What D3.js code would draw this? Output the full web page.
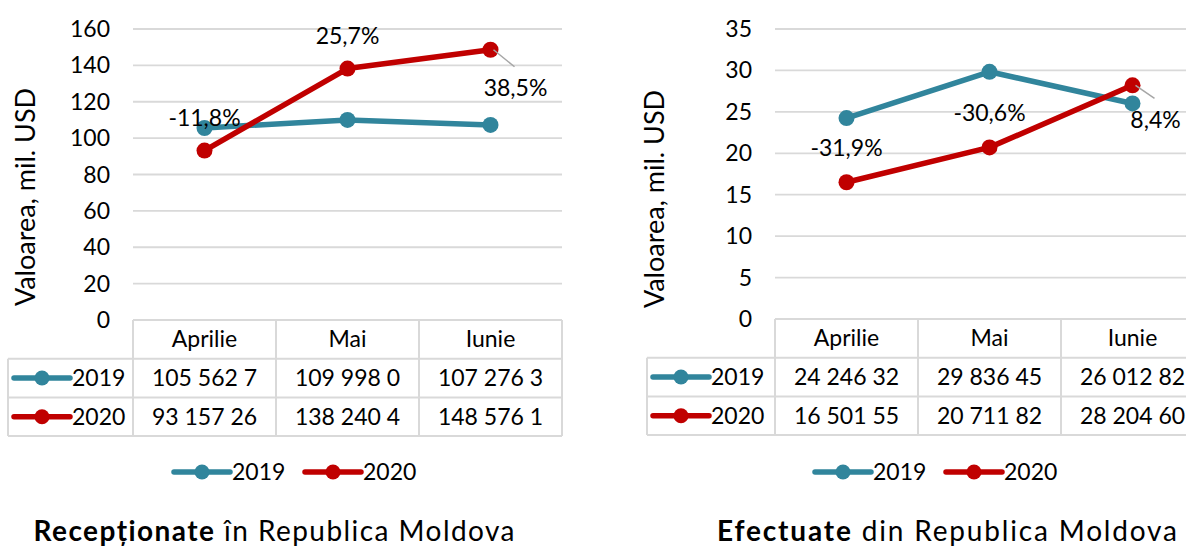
<!DOCTYPE html>
<html>
<head>
<meta charset="utf-8">
<script src="https://cdn.jsdelivr.net/npm/d3@7"></script>
<style>
body { margin: 0; background: #fff; }
svg text { font-family: Lato, sans-serif; fill: #000; }
</style>
</head>
<body>
<svg id="chart" width="1186" height="546"></svg>
<script>
var months = ["Aprilie", "Mai", "Iunie"]
var years = ["2019", "2020"]

// Receptionate in Republica Moldova, mil. USD
var rec2019 = [105.5627, 109.9980, 107.2763]
var rec2020 = [93.15726, 138.2404, 148.5761]
var recTable2019 = ["105 562 7", "109 998 0", "107 276 3"]
var recTable2020 = ["93 157 26", "138 240 4", "148 576 1"]
var recChange = ["-11,8%", "25,7%", "38,5%"]
var recTicks = [0, 20, 40, 60, 80, 100, 120, 140, 160]

// Efectuate din Republica Moldova, mil. USD
var ef2019 = [24.24632, 29.83645, 26.01282]
var ef2020 = [16.50155, 20.71182, 28.20460]
var efTable2019 = ["24 246 32", "29 836 45", "26 012 82"]
var efTable2020 = ["16 501 55", "20 711 82", "28 204 60"]
var efChange = ["-31,9%", "-30,6%", "8,4%"]
var efTicks = [0, 5, 10, 15, 20, 25, 30, 35]

var colors = { "2019": "#31859c", "2020": "#c00000" }
var gridColor = "#d9d9d9"

var svg = d3.select("#chart")

function drawPanel(p) {
    var g = svg.append("g")
    var colW = p.colW
    var plotRight = p.plotLeft + colW * months.length

    var x = d3.scaleBand().domain(months).range([p.plotLeft, plotRight])
    var y = d3.scaleLinear().domain([0, d3.max(p.ticks)]).range([p.yBottom, p.yTop])

    // gridlines
    g.selectAll(".grid").data(p.ticks).enter().append("line")
        .attr("x1", p.plotLeft).attr("x2", plotRight)
        .attr("y1", d => y(d)).attr("y2", d => y(d))
        .attr("stroke", gridColor).attr("stroke-width", 1.8)

    // y tick labels
    g.selectAll(".tick").data(p.ticks).enter().append("text")
        .attr("x", p.plotLeft - 23).attr("y", d => y(d)).attr("dy", "0.35em")
        .attr("text-anchor", "end").style("font-size", "23px")
        .text(d => d)

    // y title
    g.append("text")
        .attr("transform", "translate(" + p.titleX + "," + p.titleY + ") rotate(-90)")
        .attr("text-anchor", "middle").attr("dy", "0.35em")
        .style("font-size", "27px")
        .text("Valoarea, mil. USD")

    var line = d3.line()
        .x((d, i) => x(months[i]) + x.bandwidth() / 2)
        .y(d => y(d))

    var series = [[years[0], p.s2019], [years[1], p.s2020]]
    series.forEach(function (s) {
        g.append("path").datum(s[1])
            .attr("d", line).attr("fill", "none")
            .attr("stroke", colors[s[0]]).attr("stroke-width", 5.5)
            .attr("stroke-linejoin", "round")
        g.selectAll(".dot" + s[0]).data(s[1]).enter().append("circle")
            .attr("cx", (d, i) => x(months[i]) + x.bandwidth() / 2)
            .attr("cy", d => y(d))
            .attr("r", 8).attr("fill", colors[s[0]])
    })

    // percent labels on the 2020 series
    p.s2020.forEach(function (v, i) {
        var cx = x(months[i]) + x.bandwidth() / 2, cy = y(v)
        var off = p.labelOff[i]
        if (off[2]) {
            g.append("line")
                .attr("x1", cx + 3).attr("y1", cy)
                .attr("x2", cx + off[2][0]).attr("y2", cy + off[2][1])
                .attr("stroke", "#a6a6a6").attr("stroke-width", 1.5)
        }
        g.append("text")
            .attr("x", cx + off[0]).attr("y", cy + off[1]).attr("dy", "0.35em")
            .attr("text-anchor", "middle").style("font-size", "23px")
            .text(p.change[i])
    })

    // data table
    var rowH = p.rowH
    var tTop = p.yBottom
    var tBottom = tTop + rowH * 3
    var tg = g.append("g").attr("stroke", gridColor).attr("stroke-width", 2)
    tg.append("line").attr("x1", p.tableLeft).attr("x2", plotRight)
        .attr("y1", tTop + rowH).attr("y2", tTop + rowH)
    tg.append("line").attr("x1", p.tableLeft).attr("x2", plotRight)
        .attr("y1", tTop + rowH * 2).attr("y2", tTop + rowH * 2)
    tg.append("line").attr("x1", p.tableLeft).attr("x2", plotRight)
        .attr("y1", tBottom).attr("y2", tBottom)
    tg.append("line").attr("x1", p.tableLeft).attr("x2", p.tableLeft)
        .attr("y1", tTop + rowH).attr("y2", tBottom)
    d3.range(months.length + 1).forEach(function (i) {
        var xx = p.plotLeft + i * colW
        tg.append("line").attr("x1", xx).attr("x2", xx)
            .attr("y1", tTop).attr("y2", tBottom)
    })

    g.selectAll(".hdr").data(months).enter().append("text")
        .attr("x", d => x(d) + x.bandwidth() / 2).attr("y", tTop + rowH / 2).attr("dy", "0.35em")
        .attr("text-anchor", "middle").style("font-size", "23px")
        .text(d => d)

    var rows = [[years[0], p.t2019], [years[1], p.t2020]]
    rows.forEach(function (r, ri) {
        var cy = tTop + rowH * (ri + 1.5)
        legendKey(g, p.tableLeft + 6, cy, r[0])
        g.selectAll(".cell" + r[0]).data(r[1]).enter().append("text")
            .attr("x", (d, i) => x(months[i]) + x.bandwidth() / 2).attr("y", cy).attr("dy", "0.35em")
            .attr("text-anchor", "middle").style("font-size", "23px")
            .text(d => d)
    })

    // legend
    legendKey(g, p.legendX, 472, years[0])
    legendKey(g, p.legendX + 131, 472, years[1])

    // title
    var t = g.append("text").attr("x", p.captionX).attr("y", 531).attr("dy", "0.35em")
        .attr("text-anchor", "middle").style("font-size", "28px")
        .attr("textLength", p.captionW).attr("lengthAdjust", "spacing")
    t.append("tspan").style("font-weight", "bold").text(p.caption[0])
    t.append("tspan").text(p.caption[1])
}

function legendKey(g, x0, cy, name) {
    g.append("line").attr("x1", x0).attr("x2", x0 + 56)
        .attr("y1", cy).attr("y2", cy)
        .attr("stroke", colors[name]).attr("stroke-width", 5.5).attr("stroke-linecap", "round")
    g.append("circle").attr("cx", x0 + 28).attr("cy", cy).attr("r", 7.5).attr("fill", colors[name])
    g.append("text").attr("x", x0 + 58).attr("y", cy).attr("dy", "0.35em")
        .style("font-size", "23px").text(name)
}

drawPanel({
    plotLeft: 133, colW: 143, tableLeft: 8, yTop: 29, yBottom: 320, rowH: 38.7,
    ticks: recTicks, s2019: rec2019, s2020: rec2020,
    t2019: recTable2019, t2020: recTable2020, change: recChange,
    labelOff: [[0, -33], [0, -33], [25, 38, [24, 17]]],
    titleX: 26, titleY: 197, legendX: 174, captionX: 274, captionW: 481,
    caption: ["Recepționate", " în Republica Moldova"]
})

drawPanel({
    plotLeft: 775, colW: 143, tableLeft: 647, yTop: 29, yBottom: 319, rowH: 38.7,
    ticks: efTicks, s2019: ef2019, s2020: ef2020,
    t2019: efTable2019, t2020: efTable2020, change: efChange,
    labelOff: [[0, -34], [0, -34], [23, 35, [22, 13]]],
    titleX: 655, titleY: 199, legendX: 815, captionX: 947, captionW: 460,
    caption: ["Efectuate", " din Republica Moldova"]
})
</script>
</body>
</html>
